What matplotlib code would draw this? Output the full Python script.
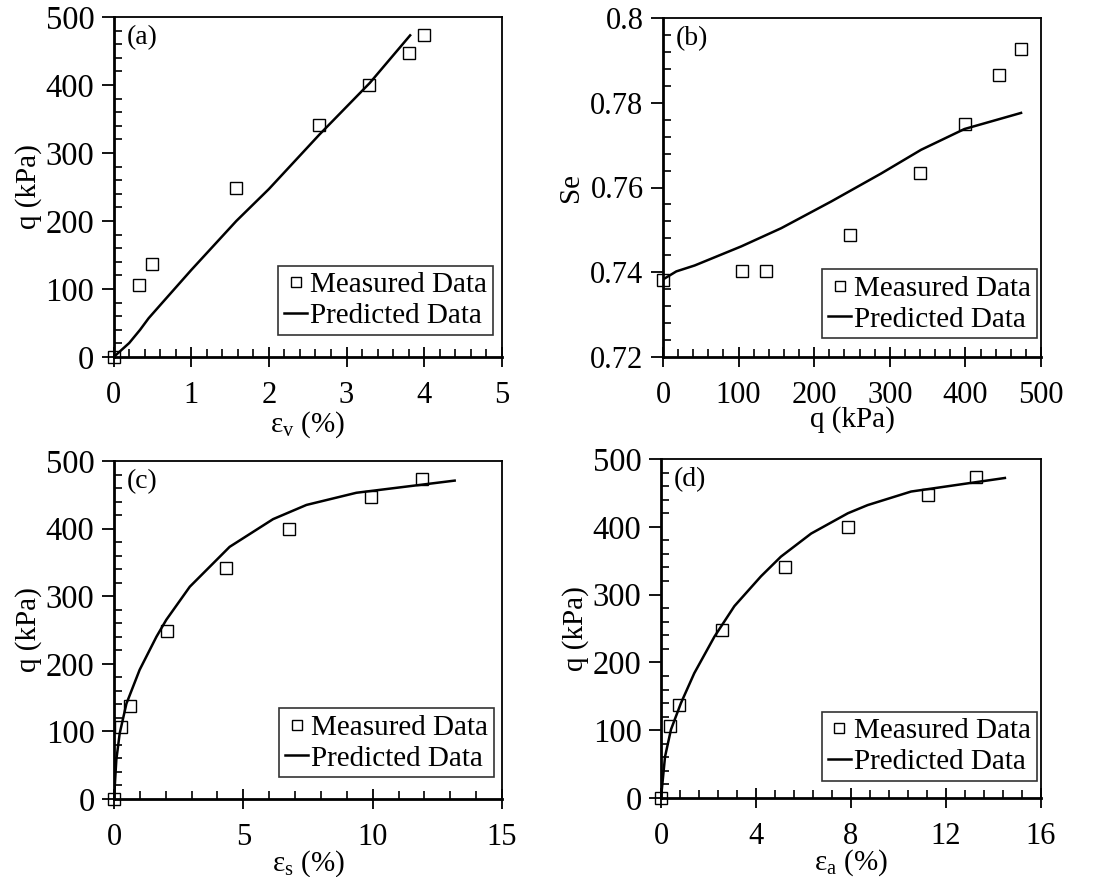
import matplotlib
matplotlib.use("Agg")
import matplotlib.pyplot as plt
from matplotlib.ticker import MultipleLocator, FuncFormatter

plt.rcParams['font.family'] = ['Liberation Serif', 'DejaVu Serif']
plt.rcParams['mathtext.fontset'] = 'custom'
plt.rcParams['mathtext.rm'] = 'Liberation Serif'
plt.rcParams['mathtext.it'] = 'Liberation Serif:italic'

# ------------------ DATA ------------------

# measured points
q_meas = [0, 106, 137, 248, 341, 400, 447, 474]
ev_meas = [0, 0.32, 0.49, 1.58, 2.65, 3.29, 3.81, 4.00]
es_meas = [0, 0.28, 0.63, 2.04, 4.34, 6.75, 9.93, 11.89]
ea_meas = [0, 0.38, 0.77, 2.57, 5.24, 7.87, 11.23, 13.26]
se_q_meas = [0, 105, 136, 247, 340, 399, 445, 473]
se_meas = [0.7381, 0.7402, 0.7402, 0.7489, 0.7634, 0.7750, 0.7865, 0.7928]

# predicted curves
ev_pred = [0, 0.2, 0.34, 0.45, 0.62, 1.0, 1.58, 2.0, 2.65, 3.3, 3.82]
q_pred_a = [0, 20.6, 40, 57, 79, 128, 200, 247, 327, 403, 473]

q_pred_b = [0, 17.6, 41.9, 103.5, 156.4, 222.5, 288.5, 341.4, 398.7, 473.6]
se_pred = [0.7383, 0.7402, 0.7416, 0.7461, 0.7504, 0.7567, 0.7633, 0.7689, 0.7738, 0.7776]

es_pred = [0, 0.09, 0.22, 0.48, 0.99, 1.64, 2.02, 2.93, 4.47, 6.15, 7.44, 9.37, 13.17]
q_pred_c = [0, 58, 97, 141, 191, 240, 265, 314, 373, 414, 435, 453, 471]

ea_pred = [0, 0.17, 0.42, 0.84, 1.40, 2.25, 3.09, 4.21, 5.05, 6.32, 7.87, 8.70, 10.53, 14.48]
q_pred_d = [0, 61, 101, 140, 184, 238, 283, 327, 356, 390, 420, 432, 452, 472]

# ------------------ PLOT ------------------

fig = plt.figure(figsize=(10.96, 8.77), dpi=100)

W, H = 1096, 877
def box(l, t, r, b):
    return [l / W, 1 - b / H, (r - l) / W, (b - t) / H]

ax_a = fig.add_axes(box(113.7, 17, 501.7, 357))
ax_b = fig.add_axes(box(663, 18, 1041, 357))
ax_c = fig.add_axes(box(114, 461, 502, 799))
ax_d = fig.add_axes(box(661, 459, 1041, 798))

panels = [
    (ax_a, ev_meas, q_meas, ev_pred, q_pred_a, (0, 5), 1, 0.2, (0, 500), 100, 20,
     'ε$_\\mathregular{v}$ (%)', 'q (kPa)', '(a)', (0.978, 0.065), -0.153, -0.185, 23.5),
    (ax_b, se_q_meas, se_meas, q_pred_b, se_pred, (0, 500), 100, 20, (0.72, 0.8), 0.02, 0.004,
     'q (kPa)', 'Se', '(b)', (0.990, 0.055), -0.146, -0.209, 22),
    (ax_c, es_meas, q_meas, es_pred, q_pred_c, (0, 15), 5, 1, (0, 500), 100, 20,
     'ε$_\\mathregular{s}$ (%)', 'q (kPa)', '(c)', (0.980, 0.064), -0.145, -0.186, 23.5),
    (ax_d, ea_meas, q_meas, ea_pred, q_pred_d, (0, 16), 4, 0.8, (0, 500), 100, 20,
     'ε$_\\mathregular{a}$ (%)', 'q (kPa)', '(d)', (0.989, 0.051), -0.147, -0.190, 23.5),
]

for (ax, xm, ym, xp, yp, xlim, xmaj, xmin, ylim, ymaj, ymin,
     xlabel, ylabel, tag, leg_anchor, xl_y, yl_x, ysize) in panels:
    ax.plot(xm, ym, 's', markersize=8, markerfacecolor='none',
            markeredgecolor='black', markeredgewidth=1.0, label='Measured Data',
            clip_on=False, zorder=3)
    ax.plot(xp, yp, '-', color='black', linewidth=1.8, label='Predicted Data')
    ax.set_xlim(*xlim)
    ax.set_ylim(*ylim)
    ax.xaxis.set_major_locator(MultipleLocator(xmaj))
    ax.xaxis.set_minor_locator(MultipleLocator(xmin))
    ax.yaxis.set_major_locator(MultipleLocator(ymaj))
    ax.yaxis.set_minor_locator(MultipleLocator(ymin))
    ax.yaxis.set_major_formatter(FuncFormatter(lambda v, p: '%g' % round(v, 4)))
    ax.xaxis.set_major_formatter(FuncFormatter(lambda v, p: '%g' % round(v, 4)))
    ax.tick_params(axis='x', which='major', direction='inout', length=14, width=1.3,
                   labelsize=22, pad=10)
    ax.tick_params(axis='y', which='major', direction='out', length=9, width=1.3,
                   labelsize=ysize, pad=5)
    ax.tick_params(which='minor', direction='in', length=6, width=1.2)
    for s in ax.spines.values():
        s.set_linewidth(1.3)
    ax.spines['left'].set_linewidth(2)
    ax.spines['bottom'].set_linewidth(2)
    ax.set_xlabel(xlabel, fontsize=21)
    ax.set_ylabel(ylabel, fontsize=21)
    ax.xaxis.set_label_coords(0.5, xl_y)
    ax.yaxis.set_label_coords(yl_x, 0.5)
    ax.text(0.034, 0.975, tag, transform=ax.transAxes, fontsize=20,
            ha='left', va='top')
    leg = ax.legend(loc='lower right', bbox_to_anchor=leg_anchor, borderaxespad=0,
                    fontsize=21, frameon=True, fancybox=False, edgecolor='black',
                    handlelength=0.8, handletextpad=0.1, borderpad=0.2,
                    labelspacing=0.15, markerscale=0.9)
    leg.get_frame().set_linewidth(1.2)

fig.savefig("out.png", dpi=100)
